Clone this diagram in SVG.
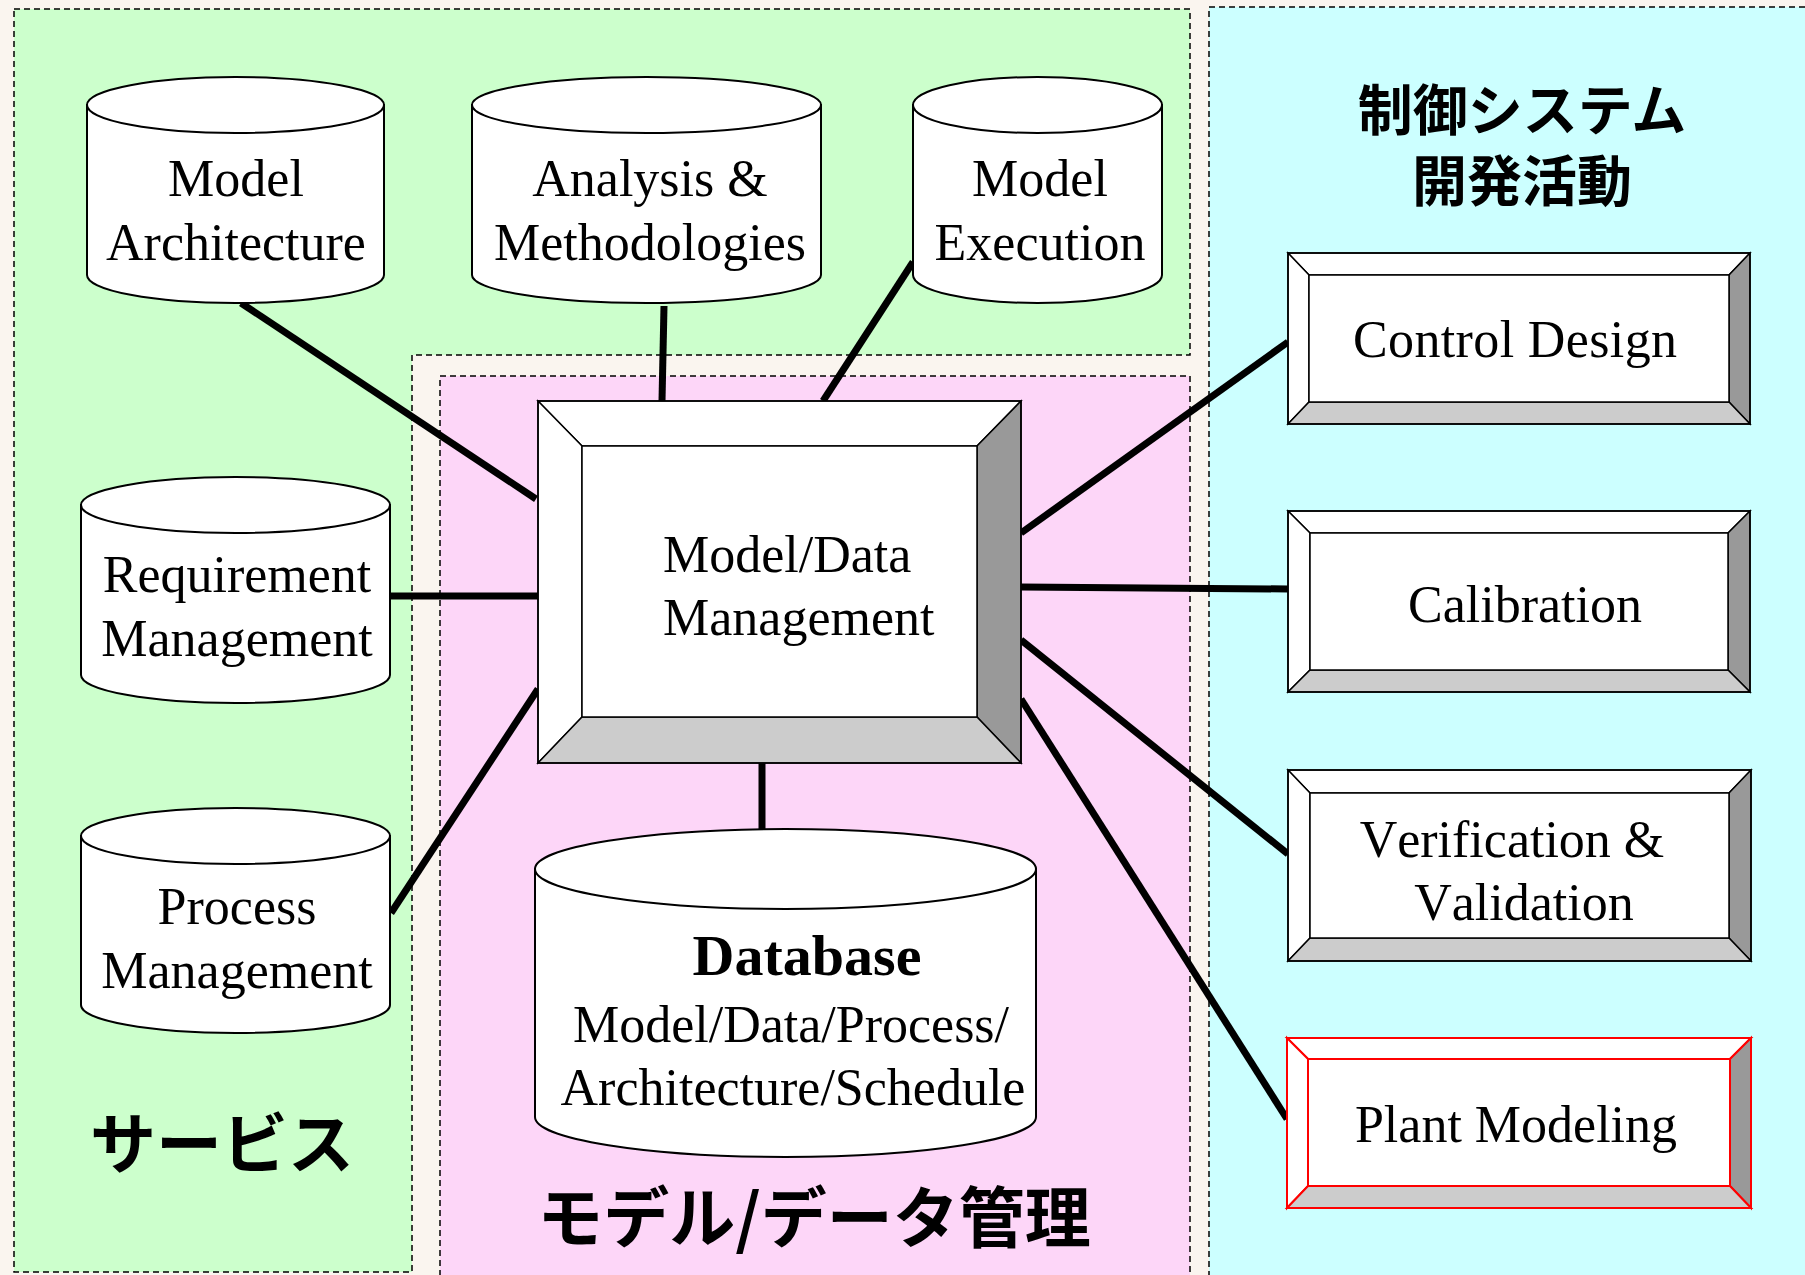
<svg xmlns="http://www.w3.org/2000/svg" width="1805" height="1275" viewBox="0 0 1805 1275">
  <style>
    .zone { stroke: #000; stroke-width: 1.5; stroke-dasharray: 6 4; }
    .cyl { fill: #fff; stroke: #000; stroke-width: 2; }
    .lbl { font-family: "Liberation Serif", "Times New Roman", serif; font-size: 52px; fill: #000; text-anchor: middle; font-kerning: none; }
    .lbl.left { text-anchor: start; }
    .lbl.title { font-size: 58px; font-weight: bold; }
    .jp { font-family: "Noto Sans CJK JP", sans-serif; font-weight: bold; fill: #000; text-anchor: middle; }
    .link { stroke: #000; stroke-width: 7; fill: none; }
    .bev { stroke: #000; stroke-width: 1.5; }
    .bev.red { stroke: #ff0000; stroke-width: 2; }
    .hi { fill: #fff; }
    .sh-r { fill: #999; }
    .sh-b { fill: #ccc; }
  </style>

  <!-- backdrop -->
  <rect width="1805" height="1275" fill="#faf5ef"/>

  <!-- zones -->
  <g id="zone-service">
    <polygon class="zone" fill="#ccffcc" points="14,9 1190,9 1190,355 412,355 412,1272 14,1272"/>
    <text class="jp" x="222" y="1168" font-size="66">サービス</text>
  </g>
  <g id="zone-modeldata">
    <rect class="zone" fill="#fdd6f8" x="440" y="376" width="750" height="920"/>
    <text class="jp" x="814" y="1242" font-size="66">モデル/データ管理</text>
  </g>
  <g id="zone-control">
    <rect class="zone" fill="#ccffff" x="1209" y="7" width="620" height="1290"/>
    <text class="jp" font-size="55"><tspan x="1522" y="130">制御システム</tspan><tspan x="1522" y="201">開発活動</tspan></text>
  </g>

  <!-- connectors -->
  <g id="connectors">
    <line class="link" x1="241" y1="303" x2="536" y2="499"/>
    <line class="link" x1="664" y1="306" x2="662" y2="401"/>
    <line class="link" x1="913" y1="262" x2="823" y2="401"/>
    <line class="link" x1="391" y1="596" x2="538" y2="596"/>
    <line class="link" x1="391" y1="913" x2="538" y2="689"/>
    <line class="link" x1="762" y1="763" x2="762" y2="829"/>
    <line class="link" x1="1021" y1="533" x2="1288" y2="342"/>
    <line class="link" x1="1021" y1="587" x2="1288" y2="589"/>
    <line class="link" x1="1021" y1="640" x2="1288" y2="854"/>
    <line class="link" x1="1021" y1="699" x2="1287" y2="1119"/>
  </g>

  <!-- cylinders -->
  <g id="model-architecture">
    <path class="cyl" d="M87,105 V275 A148.5,28 0 0 0 384,275 V105 Z"/>
    <ellipse class="cyl" cx="235.5" cy="105" rx="148.5" ry="28"/>
    <text class="lbl" x="236" y="196">Model</text>
    <text class="lbl" x="236" y="260">Architecture</text>
  </g>
  <g id="analysis-methodologies">
    <path class="cyl" d="M472,105 V275 A174.5,28 0 0 0 821,275 V105 Z"/>
    <ellipse class="cyl" cx="646.5" cy="105" rx="174.5" ry="28"/>
    <text class="lbl" x="650" y="196">Analysis &amp;</text>
    <text class="lbl" x="650" y="260">Methodologies</text>
  </g>
  <g id="model-execution">
    <path class="cyl" d="M913,105 V275 A124.5,28 0 0 0 1162,275 V105 Z"/>
    <ellipse class="cyl" cx="1037.5" cy="105" rx="124.5" ry="28"/>
    <text class="lbl" x="1040" y="196">Model</text>
    <text class="lbl" x="1040" y="260">Execution</text>
  </g>
  <g id="requirement-management">
    <path class="cyl" d="M81,505 V675 A154.5,28 0 0 0 390,675 V505 Z"/>
    <ellipse class="cyl" cx="235.5" cy="505" rx="154.5" ry="28"/>
    <text class="lbl" x="237" y="592">Requirement</text>
    <text class="lbl" x="237" y="656">Management</text>
  </g>
  <g id="process-management">
    <path class="cyl" d="M81,836 V1005 A154.5,28 0 0 0 390,1005 V836 Z"/>
    <ellipse class="cyl" cx="235.5" cy="836" rx="154.5" ry="28"/>
    <text class="lbl" x="237" y="924">Process</text>
    <text class="lbl" x="237" y="988">Management</text>
  </g>
  <g id="database">
    <path class="cyl" d="M535,869 V1117 A250.5,40 0 0 0 1036,1117 V869 Z"/>
    <ellipse class="cyl" cx="785.5" cy="869" rx="250.5" ry="40"/>
    <text class="lbl title" x="807" y="975">Database</text>
    <text class="lbl" x="791" y="1042">Model/Data/Process/</text>
    <text class="lbl" x="793" y="1105">Architecture/Schedule</text>
  </g>

  <!-- bevelled boxes -->
  <g id="model-data-management">
    <polygon class="bev hi" points="538,401 1021,401 977,446 582,446"/>
    <polygon class="bev hi" points="538,401 582,446 582,717 538,763"/>
    <polygon class="bev sh-r" points="1021,401 1021,763 977,717 977,446"/>
    <polygon class="bev sh-b" points="538,763 1021,763 977,717 582,717"/>
    <rect class="bev hi" x="582" y="446" width="395" height="271"/>
    <rect class="bev" fill="none" stroke-width="2" x="538" y="401" width="483" height="362"/>
    <text class="lbl left" x="663" y="572">Model/Data</text>
    <text class="lbl left" x="663" y="635">Management</text>
  </g>
  <g id="control-design">
    <polygon class="bev hi" points="1288,253 1750,253 1729,275 1309,275"/>
    <polygon class="bev hi" points="1288,253 1309,275 1309,402 1288,424"/>
    <polygon class="bev sh-r" points="1750,253 1750,424 1729,402 1729,275"/>
    <polygon class="bev sh-b" points="1288,424 1750,424 1729,402 1309,402"/>
    <rect class="bev hi" x="1309" y="275" width="420" height="127"/>
    <rect class="bev" fill="none" stroke-width="2" x="1288" y="253" width="462" height="171"/>
    <text class="lbl" x="1515" y="357" textLength="324" lengthAdjust="spacing">Control Design</text>
  </g>
  <g id="calibration">
    <polygon class="bev hi" points="1288,511 1750,511 1728,533 1310,533"/>
    <polygon class="bev hi" points="1288,511 1310,533 1310,670 1288,692"/>
    <polygon class="bev sh-r" points="1750,511 1750,692 1728,670 1728,533"/>
    <polygon class="bev sh-b" points="1288,692 1750,692 1728,670 1310,670"/>
    <rect class="bev hi" x="1310" y="533" width="418" height="137"/>
    <rect class="bev" fill="none" stroke-width="2" x="1288" y="511" width="462" height="181"/>
    <text class="lbl" x="1525" y="622">Calibration</text>
  </g>
  <g id="verification-validation">
    <polygon class="bev hi" points="1288,770 1751,770 1729,793 1310,793"/>
    <polygon class="bev hi" points="1288,770 1310,793 1310,938 1288,961"/>
    <polygon class="bev sh-r" points="1751,770 1751,961 1729,938 1729,793"/>
    <polygon class="bev sh-b" points="1288,961 1751,961 1729,938 1310,938"/>
    <rect class="bev hi" x="1310" y="793" width="419" height="145"/>
    <rect class="bev" fill="none" stroke-width="2" x="1288" y="770" width="463" height="191"/>
    <text class="lbl" x="1512" y="857">Verification &amp;</text>
    <text class="lbl" x="1524" y="920">Validation</text>
  </g>
  <g id="plant-modeling">
    <polygon class="bev red hi" points="1287,1038 1751,1038 1730,1059 1308,1059"/>
    <polygon class="bev red hi" points="1287,1038 1308,1059 1308,1186 1287,1208"/>
    <polygon class="bev red sh-r" points="1751,1038 1751,1208 1730,1186 1730,1059"/>
    <polygon class="bev red sh-b" points="1287,1208 1751,1208 1730,1186 1308,1186"/>
    <rect class="bev red hi" x="1308" y="1059" width="422" height="127"/>
    <rect class="bev red" fill="none" x="1287" y="1038" width="464" height="170"/>
    <text class="lbl" x="1516" y="1142">Plant Modeling</text>
  </g>
</svg>
